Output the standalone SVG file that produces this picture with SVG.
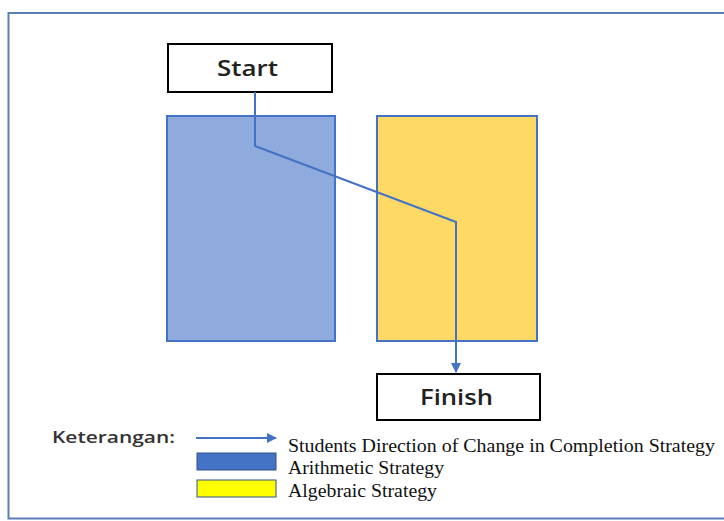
<svg xmlns="http://www.w3.org/2000/svg" width="724" height="521" viewBox="0 0 724 521">
<defs>
<style>
.box{fill:#fff;stroke:#000;stroke-width:2}
.lbl{font-family:"Open Sans","DejaVu Sans",sans-serif;font-size:21px;font-weight:600;fill:#222}
.leg{font-family:"Liberation Serif",serif;font-size:18px;fill:#111}
.conn{fill:none;stroke:#4472C4;stroke-width:2}
</style>
<marker id="ah" markerWidth="10" markerHeight="10" refX="9" refY="5" orient="auto" markerUnits="userSpaceOnUse">
<path d="M0,0 L10,5 L0,10 z" fill="#4472C4"/>
</marker>
</defs>
<rect width="724" height="521" fill="#fff"/>
<path d="M730,13 H8.5 V518.5 H730" fill="none" stroke="#5B7DB8" stroke-width="2"/>
<g id="arith">
<rect x="167" y="116" width="168" height="225" fill="#8FAADC" stroke="#4472C4" stroke-width="2"/>
</g>
<g id="alg">
<rect x="377" y="116" width="160" height="225" fill="#FFD966" stroke="#4472C4" stroke-width="2"/>
</g>
<g id="start">
<rect class="box" x="168" y="44" width="164" height="48"/>
<text class="lbl" x="217" y="76" textLength="61" lengthAdjust="spacingAndGlyphs">Start</text>
</g>
<g id="finish">
<rect class="box" x="377" y="374" width="163" height="46"/>
<text class="lbl" x="420" y="405" textLength="73" lengthAdjust="spacingAndGlyphs">Finish</text>
</g>
<g id="connectors">
<path class="conn" d="M255,92 V146 L456,222 V372" marker-end="url(#ah)"/>
</g>
<g id="legend">
<text x="52" y="443" font-family="'Open Sans','DejaVu Sans',sans-serif" font-size="16" font-weight="600" fill="#333" textLength="123" lengthAdjust="spacingAndGlyphs">Keterangan:</text>
<line x1="196" y1="438" x2="276" y2="438" class="conn" marker-end="url(#ah)"/>
<text class="leg" x="288" y="452" textLength="427" lengthAdjust="spacingAndGlyphs">Students Direction of Change in Completion Strategy</text>
<rect x="197" y="453" width="79" height="17" fill="#4472C4" stroke="#2F528F" stroke-width="1"/>
<text class="leg" x="288" y="474" textLength="156" lengthAdjust="spacingAndGlyphs">Arithmetic Strategy</text>
<rect x="197" y="480" width="79" height="17" fill="#FFFF00" stroke="#2F528F" stroke-width="1"/>
<text class="leg" x="288" y="497" textLength="149" lengthAdjust="spacingAndGlyphs">Algebraic Strategy</text>
</g>
</svg>
